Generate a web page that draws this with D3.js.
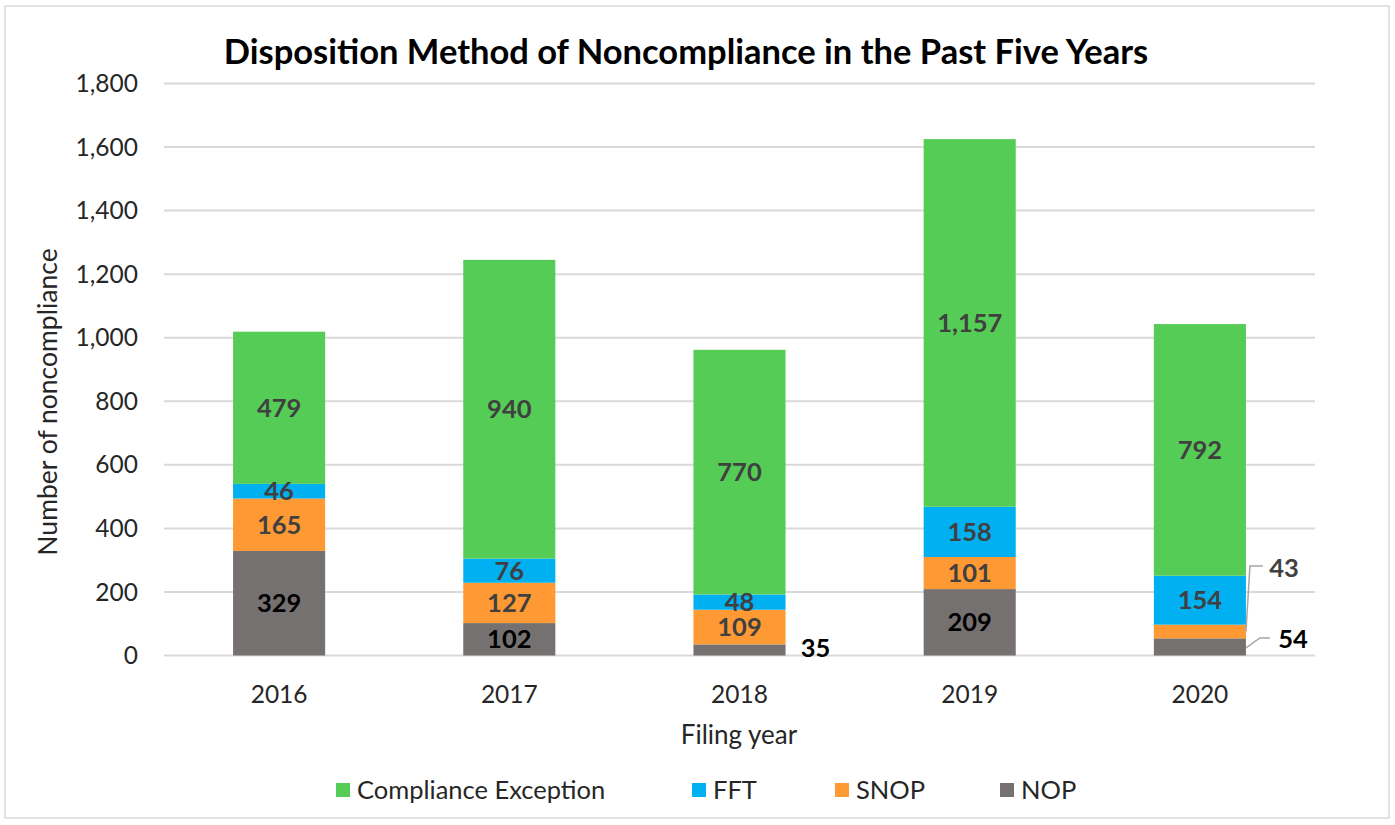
<!DOCTYPE html>
<html>
<head>
<meta charset="utf-8">
<script src="https://cdn.jsdelivr.net/npm/d3@7"></script>
<style>
  body { margin: 0; background: #fff; }
  text { font-family: Lato, "Open Sans", sans-serif; }
  .grid line { stroke: #d9d9d9; stroke-width: 2; }
  .tick-label { font-size: 24.5px; fill: #262626; }
</style>
</head>
<body>
<svg width="1395" height="825"></svg>
<script>
// Disposition method per filing year
var years = ["2016", "2017", "2018", "2019", "2020"];
var nop = [329, 102, 35, 209, 54];
var snop = [165, 127, 109, 101, 43];
var fft = [46, 76, 48, 158, 154];
var compliance = [479, 940, 770, 1157, 792];
var yTicks = [0, 200, 400, 600, 800, 1000, 1200, 1400, 1600, 1800];

var series = [
  { name: "NOP", values: nop, color: "#767171", label: "#000" },
  { name: "SNOP", values: snop, color: "#ff9933", label: "#404040" },
  { name: "FFT", values: fft, color: "#00b0f0", label: "#404040" },
  { name: "Compliance Exception", values: compliance, color: "#55cc55", label: "#404040" }
];

var svg = d3.select("svg");

// outer border
svg.append("rect")
  .attr("x", 5).attr("y", 6).attr("width", 1384).attr("height", 812)
  .attr("fill", "#fff").attr("stroke", "#d9d9d9").attr("stroke-width", 1.5);

var margin = { left: 164, right: 1315, top: 83.5, bottom: 655.5 };

var x = d3.scaleBand().domain(years).range([margin.left, margin.right]).paddingInner(0.6).paddingOuter(0.3);
var y = d3.scaleLinear().domain([0, 1800]).range([margin.bottom, margin.top]);
var fmt = d3.format(",d");

// gridlines
svg.append("g").attr("class", "grid")
  .selectAll("line").data(yTicks).enter().append("line")
  .attr("x1", margin.left).attr("x2", margin.right)
  .attr("y1", function(d) { return y(d); })
  .attr("y2", function(d) { return y(d); });

// y tick labels
svg.append("g").selectAll("text").data(yTicks).enter().append("text")
  .attr("class", "tick-label")
  .attr("x", 138).attr("y", function(d) { return y(d); })
  .attr("dy", "0.35em").attr("text-anchor", "end")
  .text(fmt);

// x tick labels
svg.append("g").selectAll("text").data(years).enter().append("text")
  .attr("class", "tick-label")
  .attr("x", function(d) { return x(d) + x.bandwidth() / 2; })
  .attr("y", 694).attr("dy", "0.35em").attr("text-anchor", "middle")
  .text(function(d) { return d; });

// stack the segments
var rows = years.map(function(yr, i) {
  var r = { year: yr };
  series.forEach(function(s) { r[s.name] = s.values[i]; });
  return r;
});
var stack = d3.stack().keys(series.map(function(s) { return s.name; }))(rows);

var layer = svg.append("g").selectAll("g").data(stack).enter().append("g")
  .attr("fill", function(d, i) { return series[i].color; });

layer.selectAll("rect").data(function(d) { return d; }).enter().append("rect")
  .attr("x", function(d) { return x(d.data.year); })
  .attr("width", x.bandwidth())
  .attr("y", function(d) { return y(d[1]); })
  .attr("height", function(d) { return y(d[0]) - y(d[1]); });

// data labels, small ones go outside with leader lines
var labels = svg.append("g").attr("font-weight", "bold").attr("font-size", 25.5);
function leader(pts) {
  svg.append("polyline").attr("points", pts.join(" "))
    .attr("fill", "none").attr("stroke", "#a6a6a6").attr("stroke-width", 1.5);
}
stack.forEach(function(layerData, si) {
  layerData.forEach(function(d, i) {
    var v = d[1] - d[0];
    var cx = x(d.data.year) + x.bandwidth() / 2;
    var cy = (y(d[0]) + y(d[1])) / 2;
    var right = x(d.data.year) + x.bandwidth();
    var lx = cx, ly = cy;
    if (series[si].name === "NOP" && v < 40) {
      lx = right + 30; ly = cy - 2;
    } else if (d.data.year === "2020" && series[si].name === "NOP") {
      leader([[right, cy + 1], [right + 14, cy - 9], [right + 24, cy - 9]]);
      lx = right + 47; ly = cy - 8;
    } else if (d.data.year === "2020" && series[si].name === "SNOP") {
      ly = y(275);
      leader([[right, cy], [right + 4, ly - 2], [right + 17, ly - 2]]);
      lx = right + 38;
    }
    labels.append("text").attr("x", lx).attr("y", ly)
      .attr("dy", "0.35em").attr("text-anchor", "middle")
      .attr("fill", series[si].label).text(fmt(v));
  });
});

// title
svg.append("text").attr("x", 686).attr("y", 52).attr("dy", "0.35em")
  .attr("text-anchor", "middle").attr("font-size", 34.5).attr("font-weight", "bold")
  .attr("fill", "#000").text("Disposition Method of Noncompliance in the Past Five Years");

// axis titles
svg.append("text").attr("transform", "translate(48,402) rotate(-90)")
  .attr("text-anchor", "middle").attr("dy", "0.35em").attr("font-size", 26.5).attr("fill", "#262626")
  .text("Number of noncompliance");
svg.append("text").attr("x", 739).attr("y", 735).attr("dy", "0.35em")
  .attr("text-anchor", "middle").attr("font-size", 26).attr("fill", "#262626")
  .text("Filing year");

// legend
var legendItems = [
  { name: "Compliance Exception", color: "#55cc55", x: 336 },
  { name: "FFT", color: "#00b0f0", x: 692 },
  { name: "SNOP", color: "#ff9933", x: 835 },
  { name: "NOP", color: "#767171", x: 1000 }
];
var leg = svg.append("g").selectAll("g").data(legendItems).enter().append("g")
  .attr("transform", function(d) { return "translate(" + d.x + ",790)"; });
leg.append("rect").attr("x", 0).attr("y", -7).attr("width", 14).attr("height", 14)
  .attr("fill", function(d) { return d.color; });
leg.append("text").attr("x", 21).attr("dy", "0.35em")
  .attr("font-size", 25.5).attr("fill", "#262626")
  .text(function(d) { return d.name; });
</script>
</body>
</html>
